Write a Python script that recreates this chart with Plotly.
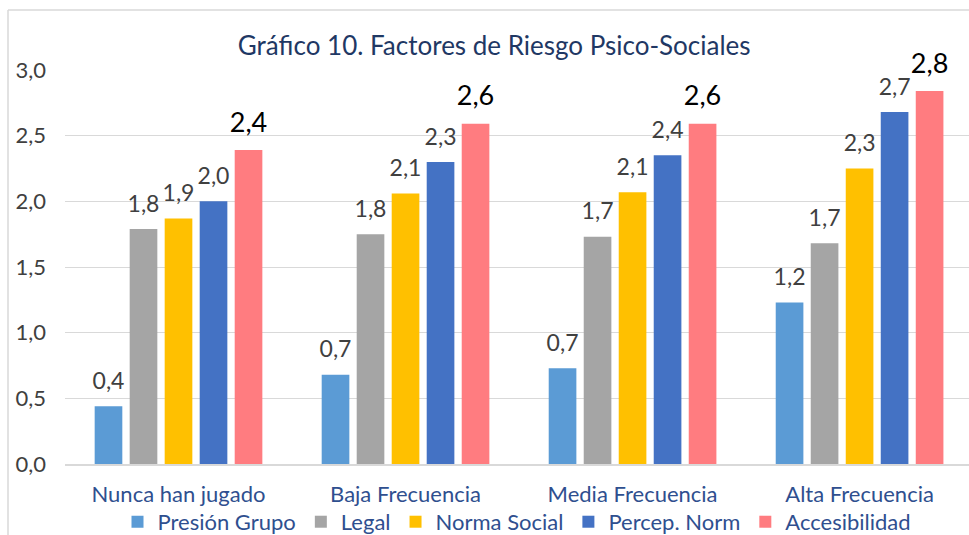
import plotly.graph_objects as go

categories = ["Nunca han jugado", "Baja Frecuencia", "Media Frecuencia", "Alta Frecuencia"]
series_names = ["Presión Grupo", "Legal", "Norma Social", "Percep. Norm", "Accesibilidad"]
presion_grupo = [0.44, 0.68, 0.73, 1.23]
legal = [1.79, 1.75, 1.73, 1.68]
norma_social = [1.87, 2.06, 2.07, 2.25]
percep_norm = [2.00, 2.30, 2.35, 2.68]
accesibilidad = [2.39, 2.59, 2.59, 2.84]
y_ticks = [0.0, 0.5, 1.0, 1.5, 2.0, 2.5, 3.0]

series_values = [presion_grupo, legal, norma_social, percep_norm, accesibilidad]
colors = ["#5B9BD5", "#A5A5A5", "#FFC000", "#4472C4", "#FF7C80"]

FONT = "Lato"
BARGAP = 0.229
fig = go.Figure()
for i, (name, vals, col) in enumerate(zip(series_names, series_values, colors)):
    fig.add_trace(go.Bar(
        x=categories, y=vals, name=name, offsetgroup=str(i),
        marker=dict(color=col, line=dict(width=0)),
    ))
# value labels, grouped like the bars, lifted a little above each bar top
for i, (name, vals) in enumerate(zip(series_names, series_values)):
    last = i == len(series_names) - 1
    fig.add_trace(go.Scatter(
        x=categories, y=vals, mode="markers+text", offsetgroup=str(i),
        texttemplate="%{y:.1f}", textposition="top center",
        marker=dict(size=17, color="rgba(0,0,0,0)"),
        textfont=dict(family=FONT, size=27 if last else 23,
                      color="#000000" if last else "#404040"),
        cliponaxis=False, showlegend=False, hoverinfo="skip",
    ))

fig.update_layout(
    width=969, height=535,
    margin=dict(l=65, r=0, t=70, b=71, autoexpand=False),
    paper_bgcolor="white", plot_bgcolor="white",
    separators=",.",
    barmode="group", bargap=BARGAP, bargroupgap=0.21,
    scattermode="group", scattergap=BARGAP,
    font=dict(family=FONT, size=22, color="#404040"),
    title=dict(text="Gráfico 10. Factores de Riesgo Psico-Sociales",
               font=dict(family=FONT, size=26, color="#1F3864"),
               x=0.51, xref="container", xanchor="center",
               y=1 - 46 / 535, yref="container", yanchor="middle"),
    xaxis=dict(range=[-0.5, 3.482], showgrid=False, showline=True,
               linecolor="#D9D9D9", linewidth=1.5, ticks="",
               tickfont=dict(family=FONT, size=22, color="#2F4F8F"),
               ticklabelstandoff=10),
    yaxis=dict(range=[0, 3], tickvals=y_ticks, tickformat=".1f",
               showgrid=True, gridcolor="#D9D9D9", gridwidth=1.3,
               zeroline=False, showline=False, ticks="",
               tickfont=dict(family=FONT, size=22, color="#404040"),
               ticklabelstandoff=18),
    legend=dict(orientation="h", x=0.5, xanchor="center", y=-0.147,
                yanchor="middle", font=dict(family=FONT, size=22, color="#2F4F8F"),
                bgcolor="rgba(0,0,0,0)", traceorder="normal", itemwidth=30),
    showlegend=True,
)

# chart-area border (left and top edges visible in the crop)
fig.add_shape(type="line", xref="paper", yref="paper",
              x0=(8 - 65) / 904, x1=(8 - 65) / 904, y0=-0.25, y1=1 + 60 / 394,
              line=dict(color="#D9D9D9", width=1.5))
fig.add_shape(type="line", xref="paper", yref="paper",
              x0=(8 - 65) / 904, x1=1.05, y0=1 + 60 / 394, y1=1 + 60 / 394,
              line=dict(color="#D9D9D9", width=1.5))

fig.write_html("out.html", config={"displayModeBar": False},
               post_script="document.body.style.margin='0';document.body.style.overflow='hidden';")
